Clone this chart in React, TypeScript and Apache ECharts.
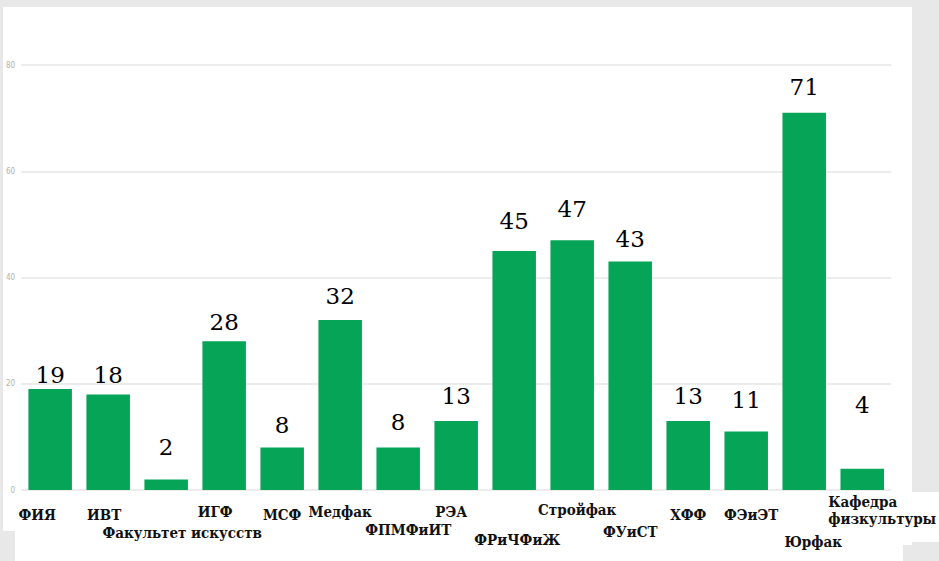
import React, { useEffect, useRef } from "react";
import * as echarts from "echarts";

const categories = [
  "ФИЯ",
  "ИВТ",
  "Факультет искусств",
  "ИГФ",
  "МСФ",
  "Медфак",
  "ФПМФиИТ",
  "РЭА",
  "ФРиЧФиЖ",
  "Стройфак",
  "ФУиСТ",
  "ХФФ",
  "ФЭиЭТ",
  "Юрфак",
  "Кафедра физкультуры",
];
const values = [19, 18, 2, 28, 8, 32, 8, 13, 45, 47, 43, 13, 11, 71, 4];
const yTicks = [0, 20, 40, 60, 80];

// layout only: label vertical padding, horizontal shift, value label gap
const catPadTop = [32, 32, 69, 26, 32, 27, 63, 26, 83, 23, 67, 33, 33, 87, 10];
const catShift = [-13, -4, 16, -9, 0, 0, 10, -5, 3, 5, 0, 0, 5, 9, 20];
const valueGap = [3, 8, 21, 8, 11, 13, 14, 13, 18, 20, 11, 13, 20, 14, 52];

const SERIF_VAL = "DejaVu Serif";
const SERIF_CAT = "DejaVu Serif Condensed";

export default function App() {
  const ref = useRef<HTMLDivElement>(null);
  useEffect(() => {
    if (!ref.current) return;
    const chart = echarts.init(ref.current, undefined, { renderer: "svg" });
    const rich: Record<string, any> = {};
    const catStyle = {
      fontFamily: SERIF_CAT,
      fontWeight: "bold",
      fontSize: 15,
      color: "#111",
    };
    categories.forEach((_, i) => {
      const dx = catShift[i];
      rich["c" + i] = {
        ...catStyle,
        lineHeight: 17,
        padding: [catPadTop[i], Math.max(0, -2 * dx), 0, Math.max(0, 2 * dx)],
      };
    });
    const kdx = catShift[14];
    rich.k1 = {
      ...catStyle,
      lineHeight: 14,
      align: "left",
      padding: [catPadTop[14], 0, 0, 2 * kdx],
    };
    rich.k2 = {
      ...catStyle,
      lineHeight: 17,
      align: "left",
      padding: [12, 0, 0, 2 * kdx],
    };
    chart.setOption({
      animation: false,
      backgroundColor: "transparent",
      grid: { left: 18, right: 44, top: 58, bottom: 71, containLabel: false },
      xAxis: {
        type: "category",
        data: categories,
        axisLine: { show: false },
        axisTick: { show: false },
        axisLabel: {
          interval: 0,
          margin: 0,
          verticalAlign: "top",
          fontFamily: SERIF_CAT,
          formatter: (v: string, i: number) => {
            if (v === "Кафедра физкультуры") return "{k1|Кафедра}\n{k2|физкультуры}";
            return "{c" + i + "|" + v + "}";
          },
          rich,
        },
      },
      yAxis: {
        type: "value",
        min: yTicks[0],
        max: yTicks[yTicks.length - 1],
        interval: 20,
        axisLine: { show: false },
        axisTick: { show: false },
        axisLabel: {
          margin: 6,
          fontSize: 8,
          color: "#b0b0b0",
          fontFamily: "DejaVu Sans Condensed",
        },
        splitLine: { lineStyle: { color: "#e6e6e6", width: 1.5 } },
      },
      series: [
        {
          type: "bar",
          barWidth: "75%",
          data: values.map((v, i) => ({
            value: v,
            label: { distance: valueGap[i] },
          })),
          itemStyle: { color: "#05a457" },
          label: {
            show: true,
            position: "top",
            fontFamily: SERIF_VAL,
            fontSize: 23,
            color: "#000",
          },
        },
      ],
    });
    return () => chart.dispose();
  }, []);
  return (
    <div
      style={{
        position: "fixed",
        left: 0,
        top: 0,
        width: 939,
        height: 561,
        background: "#e8e8e8",
        overflow: "hidden",
      }}
    >
      <div
        style={{
          position: "absolute",
          left: 3,
          top: 7,
          width: 909,
          height: 554,
          background: "#ffffff",
        }}
      />
      <div
        style={{
          position: "absolute",
          left: 903,
          top: 492,
          width: 36,
          height: 50,
          background: "#ffffff",
        }}
      />
      <div
        style={{
          position: "absolute",
          left: 0,
          top: 531,
          width: 15,
          height: 30,
          background: "#e8e8e8",
        }}
      />
      <div
        style={{
          position: "absolute",
          left: 903,
          top: 545,
          width: 36,
          height: 16,
          background: "#e8e8e8",
        }}
      />
      <div
        ref={ref}
        style={{ position: "absolute", left: 3, top: 7, width: 936, height: 554 }}
      />
    </div>
  );
}
